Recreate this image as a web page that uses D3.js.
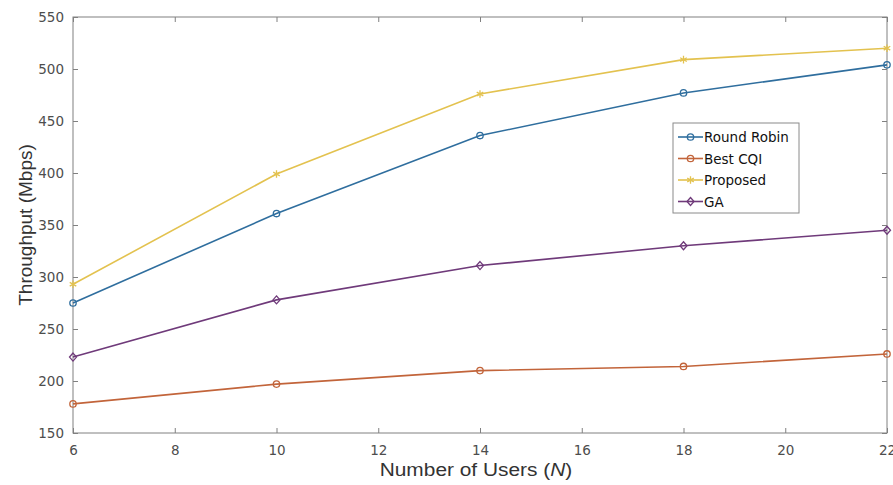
<!DOCTYPE html>
<html><head><meta charset="utf-8">
<script src="https://cdn.jsdelivr.net/npm/d3@7"></script>
<style>body{margin:0;background:#fff}svg{display:block}</style>
</head><body>
<svg id="c" width="893" height="485"></svg>
<script>
const users = [6, 10, 14, 18, 22];
const roundRobin = [275, 361, 436, 477, 504];
const bestCQI = [178, 197, 210, 214, 226];
const proposed = [293, 399, 476, 509, 520];
const ga = [223, 278, 311, 330, 345];
const xTicks = [6, 8, 10, 12, 14, 16, 18, 20, 22];
const yTicks = [150, 200, 250, 300, 350, 400, 450, 500, 550];
const seriesNames = ["Round Robin", "Best CQI", "Proposed", "GA"];
const seriesColors = ["#2f6e9e", "#c2643a", "#e3c24f", "#6f3a7a"];
const seriesMarkers = ["circle", "circle", "star", "diamond"];

const svg = d3.select("#c");
const L = 73, R = 887, T = 17, B = 433;
const x = d3.scaleLinear().domain([6, 22]).range([L, R]);
const y = d3.scaleLinear().domain([150, 550]).range([B, T]);
const axisColor = "#808080", textColor = "#4d4d4d";
const font = "Liberation Sans, Arial, sans-serif";
const wide = "DejaVu Sans, sans-serif";

svg.append("rect").attr("x", L).attr("y", T).attr("width", R - L).attr("height", B - T)
  .attr("fill", "none").attr("stroke", axisColor).attr("stroke-width", 1);

const gx = svg.append("g").attr("transform", `translate(0,${B})`)
  .call(d3.axisBottom(x).tickValues(xTicks).tickSizeInner(-5).tickSizeOuter(0).tickPadding(12));
const gxt = svg.append("g").attr("transform", `translate(0,${T})`)
  .call(d3.axisTop(x).tickValues(xTicks).tickSizeInner(-5).tickSizeOuter(0).tickFormat(""));
const gy = svg.append("g").attr("transform", `translate(${L},0)`)
  .call(d3.axisLeft(y).tickValues(yTicks).tickSizeInner(-5).tickSizeOuter(0).tickPadding(9));
const gyr = svg.append("g").attr("transform", `translate(${R},0)`)
  .call(d3.axisRight(y).tickValues(yTicks).tickSizeInner(-5).tickSizeOuter(0).tickFormat(""));
[gx, gxt, gy, gyr].forEach(g => {
  g.select(".domain").remove();
  g.selectAll("line").attr("stroke", axisColor);
  g.selectAll("text").attr("fill", textColor).style("font-family", wide).style("font-size", "13.5px");
});

const data = [roundRobin, bestCQI, proposed, ga];
const line = d3.line().x((d, i) => x(users[i])).y(d => y(d));

function marker(g, type, cx, cy, color) {
  if (type === "circle") {
    g.append("circle").attr("cx", cx).attr("cy", cy).attr("r", 3.2)
      .attr("fill", "none").attr("stroke", color).attr("stroke-width", 1.3);
  } else if (type === "diamond") {
    g.append("path").attr("d", `M${cx},${cy-4}L${cx+3.5},${cy}L${cx},${cy+4}L${cx-3.5},${cy}Z`)
      .attr("fill", "none").attr("stroke", color).attr("stroke-width", 1.3);
  } else {
    g.append("path").attr("d", d3.symbol(d3.symbolAsterisk, 40)())
      .attr("transform", `translate(${cx},${cy})`)
      .attr("fill", "none").attr("stroke", color).attr("stroke-width", 1.3);
  }
}

data.forEach((vals, s) => {
  const g = svg.append("g");
  g.append("path").datum(vals).attr("d", line).attr("fill", "none")
    .attr("stroke", seriesColors[s]).attr("stroke-width", 1.6);
  vals.forEach((v, i) => marker(g, seriesMarkers[s], x(users[i]), y(v), seriesColors[s]));
});

const lg = svg.append("g");
lg.append("rect").attr("x", 673).attr("y", 123).attr("width", 126).attr("height", 90)
  .attr("fill", "#fff").attr("stroke", "#8a8a8a").attr("stroke-width", 1);
seriesNames.forEach((n, i) => {
  const cy = 137 + i * 21.5;
  lg.append("line").attr("x1", 678).attr("x2", 703).attr("y1", cy).attr("y2", cy)
    .attr("stroke", seriesColors[i]).attr("stroke-width", 1.6);
  marker(lg, seriesMarkers[i], 690.5, cy, seriesColors[i]);
  lg.append("text").attr("x", 704).attr("y", cy + 5).text(n)
    .style("font-family", wide).style("font-size", "13.5px").attr("fill", "#111");
});

const xl = svg.append("text").attr("text-anchor", "middle")
  .attr("transform", `translate(${(L + R) / 2 - 4},476) scale(1.13,1)`)
  .style("font-family", font).style("font-size", "18.5px").attr("fill", "#333");
xl.append("tspan").text("Number of Users (");
xl.append("tspan").text("N").style("font-style", "italic");
xl.append("tspan").text(")");
svg.append("text").attr("transform", `translate(32,${(T + B) / 2}) rotate(-90)`)
  .attr("text-anchor", "middle").style("font-family", font).style("font-size", "19px")
  .attr("fill", "#333").text("Throughput (Mbps)");
</script>
</body></html>
